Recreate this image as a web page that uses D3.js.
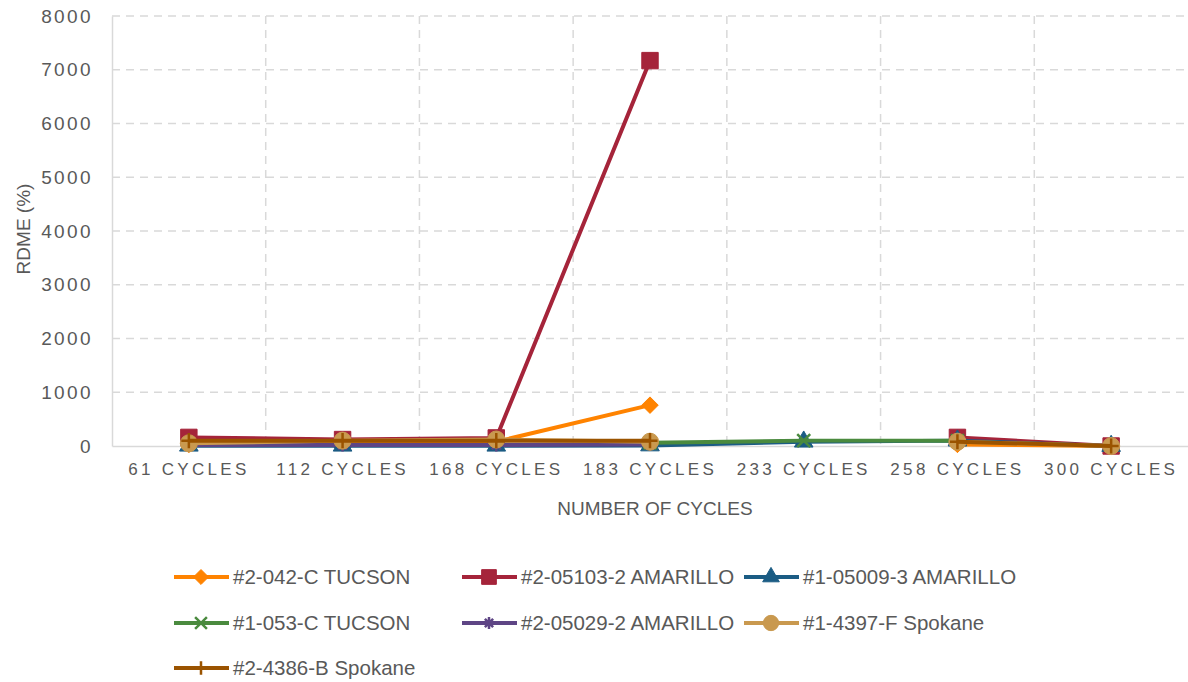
<!DOCTYPE html>
<html><head><meta charset="utf-8">
<script src="https://cdn.jsdelivr.net/npm/d3@7"></script>
<style>body{margin:0;background:#fff;}svg{display:block;}</style>
</head><body>
<svg id="c" width="1188" height="682"></svg>
<script>
const categories = ["61 CYCLES","112 CYCLES","168 CYCLES","183 CYCLES","233 CYCLES","258 CYCLES","300 CYCLES"];
const yTicks = [0,1000,2000,3000,4000,5000,6000,7000,8000];
const seriesNames = ["#2-042-C TUCSON","#2-05103-2 AMARILLO","#1-05009-3 AMARILLO","#1-053-C TUCSON","#2-05029-2 AMARILLO","#1-4397-F Spokane","#2-4386-B Spokane"];
const tucson042 = [30, 60, 80, 760, null, 30, 0];
const amarillo05103 = [160, 120, 150, 7170, null, 160, 0];
const amarillo05009 = [5, 5, 5, 10, 80, 100, 0];
const tucson053 = [null, null, null, 60, 100, 100, null];
const amarillo05029 = [20, 20, 20, 30, null, null, null];
const spokane4397 = [50, 100, 120, 80, null, 80, 0];
const spokane4386 = [100, 100, 100, 100, null, 80, 0];
const seriesValues = [tucson042, amarillo05103, amarillo05009, tucson053, amarillo05029, spokane4397, spokane4386];
const colors = ["#FF8300","#A5243A","#1B5C84","#4A8A3E","#5E4585","#C9994F","#9A5300"];
const symbols = ["diamond","square","triangle","x","star","circle","plus"];

const svg = d3.select("#c");
const m = {l:112, r:1188, t:16, b:446};
const x = d3.scaleBand().domain(categories).range([m.l, m.r]);
const y = d3.scaleLinear().domain([0,8000]).range([m.b, m.t]);
const font = "'Liberation Sans', Arial, sans-serif";

// gridlines
svg.append("g").selectAll("line.h").data(yTicks.slice(1)).join("line")
  .attr("x1", m.l).attr("x2", m.r).attr("y1", d=>y(d)).attr("y2", d=>y(d))
  .attr("stroke","#d9d9d9").attr("stroke-width",1.5).attr("stroke-dasharray","8,6");
svg.append("g").selectAll("line.v").data(categories.slice(1)).join("line")
  .attr("x1", d=>x(d)).attr("x2", d=>x(d)).attr("y1", m.t).attr("y2", m.b)
  .attr("stroke","#d9d9d9").attr("stroke-width",1.5).attr("stroke-dasharray","8,6");
// axes
const yAxis = svg.append("g").attr("transform",`translate(${m.l},0)`)
  .call(d3.axisLeft(y).tickValues(yTicks).tickFormat(d3.format("d")).tickSize(0).tickPadding(19));
yAxis.select(".domain").attr("stroke","#d9d9d9").attr("stroke-width",1.5);
yAxis.selectAll("text").attr("font-family",font).attr("font-size",19).attr("fill","#595959").attr("letter-spacing","2.4px");
const xAxis = svg.append("g").attr("transform",`translate(0,${m.b})`).call(d3.axisBottom(x).tickSize(0).tickPadding(17));
xAxis.select(".domain").attr("stroke","#d9d9d9").attr("stroke-width",1.5);
xAxis.selectAll("text").attr("font-family",font).attr("font-size",17).attr("fill","#595959").attr("letter-spacing","3.3px");

svg.append("text").attr("transform","translate(30,229) rotate(-90)").attr("text-anchor","middle")
  .attr("font-family",font).attr("font-size",19).attr("fill","#595959").text("RDME (%)");
svg.append("text").attr("x",655).attr("y",515).attr("text-anchor","middle")
  .attr("font-family",font).attr("font-size",19).attr("fill","#595959").text("NUMBER OF CYCLES");

function symPath(s, size){
  const map = {square:d3.symbolSquare, triangle:d3.symbolTriangle, circle:d3.symbolCircle};
  if (map[s]) return {d:d3.symbol().type(map[s]).size(size)(), fill:true};
  const r = Math.sqrt(size)/2+1;
  if (s==="diamond") return {d:`M0,${-r}L${r},0L0,${r}L${-r},0Z`, fill:true};
  if (s==="x") return {d:`M${-r},${-r}L${r},${r}M${-r},${r}L${r},${-r}`, fill:false};
  if (s==="plus") return {d:`M${-r},0L${r},0M0,${-r}L0,${r}`, fill:false};
  if (s==="star") return {d:`M${-r},0L${r},0M${-r*0.7},${-r*0.7}L${r*0.7},${r*0.7}M${-r*0.7},${r*0.7}L${r*0.7},${-r*0.7}M0,${-r}L0,${r}`, fill:false};
}
const sizes = {diamond:210, square:270, triangle:150, circle:230, x:120, plus:170, star:120};

const line = d3.line().defined(d=>d.v!==null).x(d=>x(d.c)+x.bandwidth()/2).y(d=>y(d.v));
seriesValues.forEach((vals,i)=>{
  const pts = vals.map((v,j)=>({c:categories[j], v}));
  const g = svg.append("g");
  g.append("path").attr("d", line(pts)).attr("fill","none").attr("stroke",colors[i]).attr("stroke-width",4).attr("stroke-linejoin","round");
  const sp = symPath(symbols[i], sizes[symbols[i]]);
  g.selectAll("path.m").data(pts.filter(p=>p.v!==null)).join("path")
    .attr("transform", d=>`translate(${x(d.c)+x.bandwidth()/2},${y(d.v)})`)
    .attr("d", sp.d)
    .attr("fill", sp.fill?colors[i]:"none").attr("stroke", colors[i]).attr("stroke-width", sp.fill?1:2.5);
});

// legend
const legPos = [[174,577],[462,577],[744,577],[174,623],[462,623],[744,623],[174,668]];
seriesNames.forEach((n,i)=>{
  const [lx,ly] = legPos[i];
  const g = svg.append("g");
  g.append("line").attr("x1",lx).attr("x2",lx+55).attr("y1",ly).attr("y2",ly).attr("stroke",colors[i]).attr("stroke-width",4);
  const sp = symPath(symbols[i], sizes[symbols[i]]*0.8);
  g.append("path").attr("transform",`translate(${lx+27},${ly})`).attr("d",sp.d)
    .attr("fill", sp.fill?colors[i]:"none").attr("stroke",colors[i]).attr("stroke-width", sp.fill?1:2.5);
  g.append("text").attr("x",lx+59).attr("y",ly+7).attr("font-family",font).attr("font-size",20.5).attr("fill","#595959").text(n);
});
</script>
</body></html>
